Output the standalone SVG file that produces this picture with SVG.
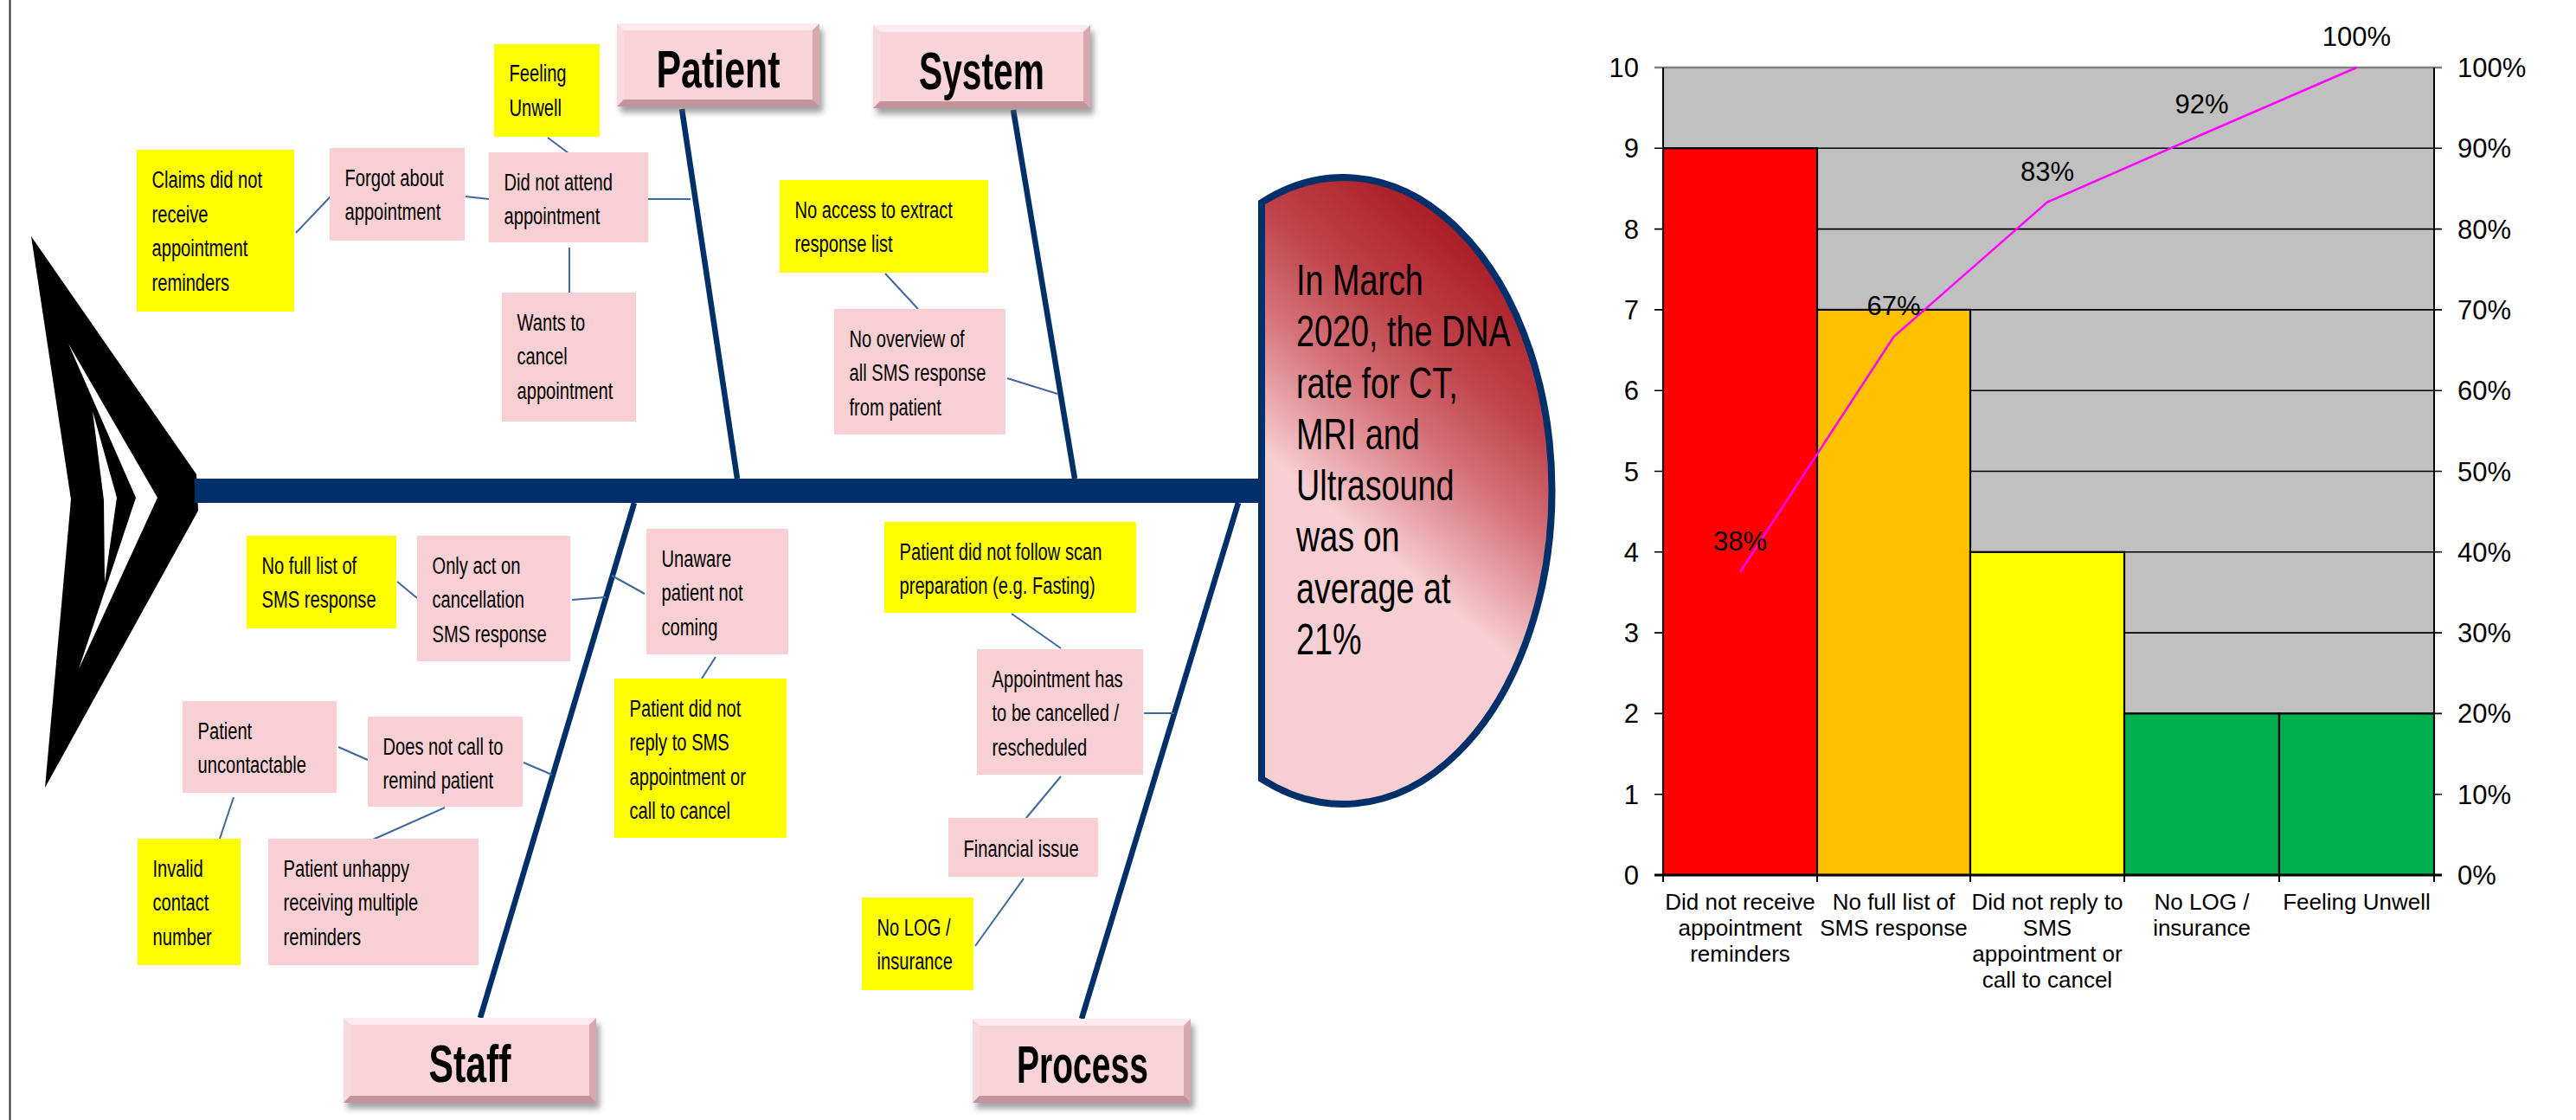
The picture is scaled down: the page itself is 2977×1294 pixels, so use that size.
<svg xmlns="http://www.w3.org/2000/svg" width="2977" height="1294" viewBox="0 0 2977 1294">
<style>
.bp{fill:#F8D0D3}
.by{fill:#FFFF00}
.t{font-family:"Liberation Sans",Arial,sans-serif;font-size:28px;fill:#000}
.ht{font-family:"Liberation Sans",Arial,sans-serif;font-size:50px;fill:#000}
.ttl{font-family:"Liberation Sans",Arial,sans-serif;font-size:62px;font-weight:bold;fill:#000}
.conn{stroke:#41679E;stroke-width:2;fill:none}
.bone{stroke:#00306A;stroke-width:6.5;fill:none}
.bvt{fill:#FCEBEE}.bvl{fill:#F6DADD}.bvb{fill:#C4939A}.bvr{fill:#D6A9AF}.face{fill:#F8D3D7}
.shadow{fill:#555;opacity:0.55}
.ax{font-family:"Liberation Sans",Arial,sans-serif;font-size:31px;fill:#000}
.cat{font-family:"Liberation Sans",Arial,sans-serif;font-size:26px;fill:#000;text-anchor:middle}
.grid{stroke:#000;stroke-width:1.6}
.bar{stroke:#000;stroke-width:2.2}
</style>
<defs>
<filter id="blur" x="-10%" y="-20%" width="130%" height="150%"><feGaussianBlur stdDeviation="3.5"/></filter>
<linearGradient id="headGrad" gradientUnits="userSpaceOnUse" x1="1700" y1="240" x2="1462" y2="525">
<stop offset="0" stop-color="#A5141D"/>
<stop offset="0.4" stop-color="#BF434A"/>
<stop offset="0.65" stop-color="#D57279"/>
<stop offset="1" stop-color="#F7CFD2"/>
</linearGradient>
</defs>
<rect x="0" y="0" width="2977" height="1294" fill="#FFFFFF"/>
<line x1="11.5" y1="0" x2="11.5" y2="1294" stroke="#333" stroke-width="2"/>

<!-- tail -->
<g id="tail">
<polygon points="36,273 227,548 229,590 52,910 82,577" fill="#000"/>
<polygon points="79,397 182,575 91,773 157,575" fill="#FFF"/>
<polygon points="107,475 135,575 121,673 120,578" fill="#FFF"/>
</g>

<!-- connectors / bones -->
<g id="connectors">
<rect x="225" y="553" width="1236" height="28" fill="#00306A"/>
<line class="bone" x1="788" y1="126" x2="852" y2="553"/>
<line class="bone" x1="1171" y1="127" x2="1242" y2="553"/>
<line class="bone" x1="733" y1="581" x2="555" y2="1176"/>
<line class="bone" x1="1431" y1="581" x2="1250" y2="1177"/>
<line class="conn" x1="749" y1="230" x2="798" y2="230"/>
<line class="conn" x1="538" y1="227" x2="565" y2="230"/>
<line class="conn" x1="342" y1="269" x2="382" y2="227"/>
<line class="conn" x1="633" y1="159" x2="657" y2="177"/>
<line class="conn" x1="658" y1="286" x2="658" y2="340"/>
<line class="conn" x1="1023" y1="316" x2="1061" y2="357"/>
<line class="conn" x1="1164" y1="437" x2="1222" y2="455"/>
<line class="conn" x1="459" y1="672" x2="482" y2="691"/>
<line class="conn" x1="661" y1="693" x2="700" y2="690"/>
<line class="conn" x1="745" y1="686" x2="707" y2="665"/>
<line class="conn" x1="827" y1="759" x2="811" y2="784"/>
<line class="conn" x1="391" y1="863" x2="425" y2="878"/>
<line class="conn" x1="605" y1="881" x2="638" y2="895"/>
<line class="conn" x1="514" y1="933" x2="431" y2="970"/>
<line class="conn" x1="270" y1="921" x2="254" y2="969"/>
<line class="conn" x1="1169" y1="709" x2="1226" y2="749"/>
<line class="conn" x1="1322" y1="824" x2="1357" y2="824"/>
<line class="conn" x1="1226" y1="897" x2="1186" y2="945"/>
<line class="conn" x1="1183" y1="1015" x2="1127" y2="1093"/>
</g>

<!-- head -->
<g id="head">
<path d="M1458,234 A241,362 0 1 1 1458,900 Z" fill="url(#headGrad)" stroke="#00306A" stroke-width="8"/>
<text class="ht" transform="translate(1498,0) scale(0.755,1)"><tspan x="0" y="341">In March</tspan><tspan x="0" y="400">2020, the DNA</tspan><tspan x="0" y="460">rate for CT,</tspan><tspan x="0" y="519">MRI and</tspan><tspan x="0" y="578">Ultrasound</tspan><tspan x="0" y="637">was on</tspan><tspan x="0" y="697">average at</tspan><tspan x="0" y="756">21%</tspan></text>
</g>

<!-- category title boxes -->
<g id="cat-patient">
<rect class="shadow" x="717" y="34" width="234" height="96" filter="url(#blur)"/>
<polygon class="bvt" points="713,27 947,27 939,35 721,35"/>
<polygon class="bvl" points="713,27 721,35 721,115 713,123"/>
<polygon class="bvb" points="713,123 721,115 939,115 947,123"/>
<polygon class="bvr" points="947,27 947,123 939,115 939,35"/>
<rect class="face" x="721" y="35" width="218" height="80"/>
<text class="ttl" x="830" y="101" text-anchor="middle" textLength="143" lengthAdjust="spacingAndGlyphs">Patient</text>
</g>
<g id="cat-system">
<rect class="shadow" x="1013" y="36" width="251" height="96" filter="url(#blur)"/>
<polygon class="bvt" points="1009,29 1260,29 1252,37 1017,37"/>
<polygon class="bvl" points="1009,29 1017,37 1017,117 1009,125"/>
<polygon class="bvb" points="1009,125 1017,117 1252,117 1260,125"/>
<polygon class="bvr" points="1260,29 1260,125 1252,117 1252,37"/>
<rect class="face" x="1017" y="37" width="235" height="80"/>
<text class="ttl" x="1134.5" y="103" text-anchor="middle" textLength="145" lengthAdjust="spacingAndGlyphs">System</text>
</g>
<g id="cat-staff">
<rect class="shadow" x="401" y="1183" width="292" height="98" filter="url(#blur)"/>
<polygon class="bvt" points="397,1176 689,1176 681,1184 405,1184"/>
<polygon class="bvl" points="397,1176 405,1184 405,1266 397,1274"/>
<polygon class="bvb" points="397,1274 405,1266 681,1266 689,1274"/>
<polygon class="bvr" points="689,1176 689,1274 681,1266 681,1184"/>
<rect class="face" x="405" y="1184" width="276" height="82"/>
<text class="ttl" x="543" y="1250" text-anchor="middle" textLength="95" lengthAdjust="spacingAndGlyphs">Staff</text>
</g>
<g id="cat-process">
<rect class="shadow" x="1128" y="1184" width="252" height="97" filter="url(#blur)"/>
<polygon class="bvt" points="1124,1177 1376,1177 1368,1185 1132,1185"/>
<polygon class="bvl" points="1124,1177 1132,1185 1132,1266 1124,1274"/>
<polygon class="bvb" points="1124,1274 1132,1266 1368,1266 1376,1274"/>
<polygon class="bvr" points="1376,1177 1376,1274 1368,1266 1368,1185"/>
<rect class="face" x="1132" y="1185" width="236" height="81"/>
<text class="ttl" x="1251" y="1251" text-anchor="middle" textLength="152" lengthAdjust="spacingAndGlyphs">Process</text>
</g>

<!-- cause boxes -->
<g id="n-feeling"><rect class="by" x="571" y="51" width="122" height="107"/>
<text class="t" transform="translate(588.5,0) scale(0.72,1)"><tspan x="0" y="94.5">Feeling</tspan><tspan x="0" y="134">Unwell</tspan></text></g>
<g id="n-claims"><rect class="by" x="158" y="173" width="182" height="187"/>
<text class="t" transform="translate(175.5,0) scale(0.72,1)"><tspan x="0" y="217.5">Claims did not</tspan><tspan x="0" y="257">receive</tspan><tspan x="0" y="296.5">appointment</tspan><tspan x="0" y="336">reminders</tspan></text></g>
<g id="n-forgot"><rect class="bp" x="381" y="171" width="156" height="107"/>
<text class="t" transform="translate(398.5,0) scale(0.72,1)"><tspan x="0" y="215">Forgot about</tspan><tspan x="0" y="254.5">appointment</tspan></text></g>
<g id="n-dna"><rect class="bp" x="565" y="176" width="184" height="104"/>
<text class="t" transform="translate(582.5,0) scale(0.72,1)"><tspan x="0" y="220">Did not attend</tspan><tspan x="0" y="259.5">appointment</tspan></text></g>
<g id="n-wants"><rect class="bp" x="580" y="338" width="155" height="149"/>
<text class="t" transform="translate(597.5,0) scale(0.72,1)"><tspan x="0" y="382">Wants to</tspan><tspan x="0" y="421.5">cancel</tspan><tspan x="0" y="461">appointment</tspan></text></g>
<g id="n-noaccess"><rect class="by" x="901" y="208" width="241" height="107"/>
<text class="t" transform="translate(918.5,0) scale(0.72,1)"><tspan x="0" y="252">No access to extract</tspan><tspan x="0" y="291.5">response list</tspan></text></g>
<g id="n-nooverview"><rect class="bp" x="964" y="357" width="198" height="145"/>
<text class="t" transform="translate(981.5,0) scale(0.72,1)"><tspan x="0" y="401">No overview of</tspan><tspan x="0" y="440.5">all SMS response</tspan><tspan x="0" y="480">from patient</tspan></text></g>
<g id="n-nofull"><rect class="by" x="285" y="619" width="173" height="107"/>
<text class="t" transform="translate(302.5,0) scale(0.72,1)"><tspan x="0" y="663">No full list of</tspan><tspan x="0" y="702.5">SMS response</tspan></text></g>
<g id="n-onlyact"><rect class="bp" x="482" y="619" width="177" height="145"/>
<text class="t" transform="translate(499.5,0) scale(0.72,1)"><tspan x="0" y="663">Only act on</tspan><tspan x="0" y="702.5">cancellation</tspan><tspan x="0" y="742">SMS response</tspan></text></g>
<g id="n-unaware"><rect class="bp" x="747" y="611" width="164" height="145"/>
<text class="t" transform="translate(764.5,0) scale(0.72,1)"><tspan x="0" y="655">Unaware</tspan><tspan x="0" y="694.5">patient not</tspan><tspan x="0" y="734">coming</tspan></text></g>
<g id="n-noreply"><rect class="by" x="710" y="784" width="199" height="184"/>
<text class="t" transform="translate(727.5,0) scale(0.72,1)"><tspan x="0" y="828">Patient did not</tspan><tspan x="0" y="867.5">reply to SMS</tspan><tspan x="0" y="907">appointment or</tspan><tspan x="0" y="946.5">call to cancel</tspan></text></g>
<g id="n-uncontactable"><rect class="bp" x="211" y="810" width="178" height="106"/>
<text class="t" transform="translate(228.5,0) scale(0.72,1)"><tspan x="0" y="854">Patient</tspan><tspan x="0" y="893.5">uncontactable</tspan></text></g>
<g id="n-nocall"><rect class="bp" x="425" y="828" width="179" height="104"/>
<text class="t" transform="translate(442.5,0) scale(0.72,1)"><tspan x="0" y="872">Does not call to</tspan><tspan x="0" y="911.5">remind patient</tspan></text></g>
<g id="n-invalid"><rect class="by" x="159" y="969" width="119" height="146"/>
<text class="t" transform="translate(176.5,0) scale(0.72,1)"><tspan x="0" y="1013">Invalid</tspan><tspan x="0" y="1052.5">contact</tspan><tspan x="0" y="1092">number</tspan></text></g>
<g id="n-unhappy"><rect class="bp" x="310" y="969" width="243" height="146"/>
<text class="t" transform="translate(327.5,0) scale(0.72,1)"><tspan x="0" y="1013">Patient unhappy</tspan><tspan x="0" y="1052.5">receiving multiple</tspan><tspan x="0" y="1092">reminders</tspan></text></g>
<g id="n-prep"><rect class="by" x="1022" y="603" width="291" height="105"/>
<text class="t" transform="translate(1039.5,0) scale(0.72,1)"><tspan x="0" y="647">Patient did not follow scan</tspan><tspan x="0" y="686.5">preparation (e.g. Fasting)</tspan></text></g>
<g id="n-cancelled"><rect class="bp" x="1129" y="750" width="192" height="145"/>
<text class="t" transform="translate(1146.5,0) scale(0.72,1)"><tspan x="0" y="794">Appointment has</tspan><tspan x="0" y="833.5">to be cancelled /</tspan><tspan x="0" y="873">rescheduled</tspan></text></g>
<g id="n-financial"><rect class="bp" x="1096" y="945" width="173" height="68"/>
<text class="t" transform="translate(1113.5,0) scale(0.72,1)"><tspan x="0" y="990">Financial issue</tspan></text></g>
<g id="n-nolog"><rect class="by" x="996" y="1037" width="129" height="107"/>
<text class="t" transform="translate(1013.5,0) scale(0.72,1)"><tspan x="0" y="1081">No LOG /</tspan><tspan x="0" y="1120.5">insurance</tspan></text></g>

<!-- Pareto chart -->
<g id="chart">
<rect x="1922" y="78" width="891" height="933" fill="#C0C0C0"/>
<g class="grid">
<line x1="1912" y1="917.7" x2="2822" y2="917.7"/>
<line x1="1912" y1="824.4" x2="2822" y2="824.4"/>
<line x1="1912" y1="731.1" x2="2822" y2="731.1"/>
<line x1="1912" y1="637.8" x2="2822" y2="637.8"/>
<line x1="1912" y1="544.5" x2="2822" y2="544.5"/>
<line x1="1912" y1="451.2" x2="2822" y2="451.2"/>
<line x1="1912" y1="357.9" x2="2822" y2="357.9"/>
<line x1="1912" y1="264.6" x2="2822" y2="264.6"/>
<line x1="1912" y1="171.3" x2="2822" y2="171.3"/>
<line x1="1912" y1="78" x2="2822" y2="78" stroke="#808080" stroke-width="2.5"/>
</g>
<rect class="bar" x="1922" y="171.3" width="178" height="839.7" fill="#FF0000"/>
<rect class="bar" x="2100" y="357.9" width="177" height="653.1" fill="#FFC000"/>
<rect class="bar" x="2277" y="637.8" width="178" height="373.2" fill="#FFFF00"/>
<rect class="bar" x="2455" y="824.4" width="179" height="186.6" fill="#00B050"/>
<rect class="bar" x="2634" y="824.4" width="179" height="186.6" fill="#00B050"/>
<g stroke="#000" stroke-width="2">
<line x1="1922" y1="78" x2="1922" y2="1011"/>
<line x1="2813" y1="78" x2="2813" y2="1011"/>
<line x1="1912" y1="1011" x2="2822" y2="1011" stroke-width="3"/>
<line x1="1922" y1="1011" x2="1922" y2="1019"/>
<line x1="2100" y1="1011" x2="2100" y2="1019"/>
<line x1="2277" y1="1011" x2="2277" y2="1019"/>
<line x1="2455" y1="1011" x2="2455" y2="1019"/>
<line x1="2634" y1="1011" x2="2634" y2="1019"/>
<line x1="2813" y1="1011" x2="2813" y2="1019"/>
</g>
<polyline points="2011,661 2188.5,389 2366,233.5 2544.5,155.5 2723.5,78" fill="none" stroke="#FF00FF" stroke-width="2.5"/>
<g class="ax" text-anchor="middle">
<text x="2011" y="636">38%</text>
<text x="2188.5" y="364">67%</text>
<text x="2366" y="209">83%</text>
<text x="2544.5" y="131">92%</text>
<text x="2723.5" y="53">100%</text>
</g>
<g class="ax" text-anchor="end">
<text x="1894" y="1022">0</text>
<text x="1894" y="928.7">1</text>
<text x="1894" y="835.4">2</text>
<text x="1894" y="742.1">3</text>
<text x="1894" y="648.8">4</text>
<text x="1894" y="555.5">5</text>
<text x="1894" y="462.2">6</text>
<text x="1894" y="368.9">7</text>
<text x="1894" y="275.6">8</text>
<text x="1894" y="182.3">9</text>
<text x="1894" y="89">10</text>
</g>
<g class="ax">
<text x="2840" y="1022">0%</text>
<text x="2840" y="928.7">10%</text>
<text x="2840" y="835.4">20%</text>
<text x="2840" y="742.1">30%</text>
<text x="2840" y="648.8">40%</text>
<text x="2840" y="555.5">50%</text>
<text x="2840" y="462.2">60%</text>
<text x="2840" y="368.9">70%</text>
<text x="2840" y="275.6">80%</text>
<text x="2840" y="182.3">90%</text>
<text x="2840" y="89">100%</text>
</g>
<text class="cat"><tspan x="2011" y="1051">Did not receive</tspan><tspan x="2011" y="1081">appointment</tspan><tspan x="2011" y="1111">reminders</tspan></text>
<text class="cat"><tspan x="2188.5" y="1051">No full list of</tspan><tspan x="2188.5" y="1081">SMS response</tspan></text>
<text class="cat"><tspan x="2366" y="1051">Did not reply to</tspan><tspan x="2366" y="1081">SMS</tspan><tspan x="2366" y="1111">appointment or</tspan><tspan x="2366" y="1141">call to cancel</tspan></text>
<text class="cat"><tspan x="2544.5" y="1051">No LOG /</tspan><tspan x="2544.5" y="1081">insurance</tspan></text>
<text class="cat"><tspan x="2723.5" y="1051">Feeling Unwell</tspan></text>
</g>
</svg>
